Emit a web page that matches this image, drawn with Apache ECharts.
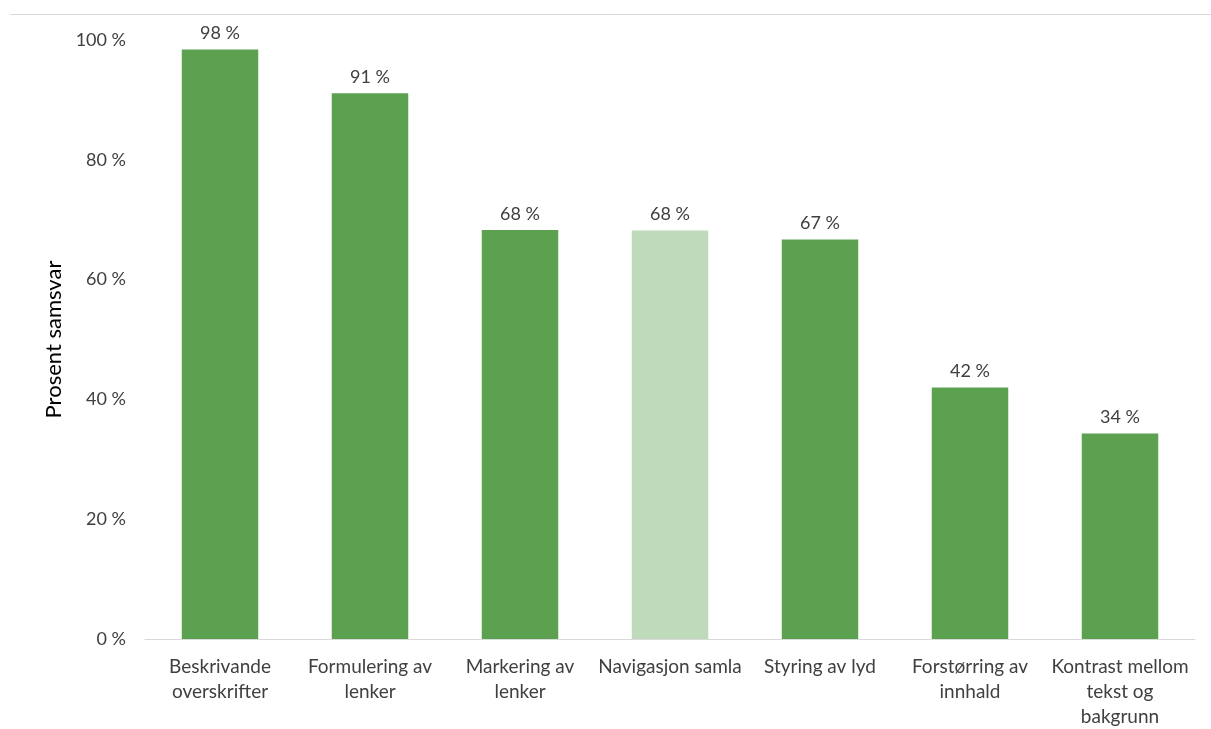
<!DOCTYPE html>
<html>
<head>
<meta charset="utf-8">
<script src="https://cdn.jsdelivr.net/npm/echarts@6/dist/echarts.min.js"></script>
<style>
  html, body { margin: 0; padding: 0; background: #fff; }
  #chart { width: 1211px; height: 729px; }
</style>
</head>
<body>
<div id="chart"></div>
<script>
const categories = [
  'Beskrivande\noverskrifter',
  'Formulering av\nlenker',
  'Markering av\nlenker',
  'Navigasjon samla',
  'Styring av lyd',
  'Forstørring av\ninnhald',
  'Kontrast mellom\ntekst og\nbakgrunn'
]
const values = [98.4, 91.1, 68.3, 68.2, 66.7, 42.0, 34.3]
const highlightIndex = 3

const green = '#5ba150'
const lightGreen = '#bfdabb'
const font = 'Lato, "Open Sans", sans-serif'

const chart = echarts.init(document.getElementById('chart'))

chart.setOption({
  animation: false,
  textStyle: { fontFamily: font },
  grid: { left: 145, right: 16, top: 40, bottom: 89 },
  graphic: [
    {
      type: 'line',
      shape: { x1: 10, y1: 14.5, x2: 1211, y2: 14.5 },
      style: { stroke: '#d9d9d9', lineWidth: 1 }
    }
  ],
  xAxis: {
    type: 'category',
    data: categories,
    axisLine: { lineStyle: { color: '#d9d9d9', width: 1 } },
    axisTick: { show: false },
    axisLabel: {
      color: '#404040',
      fontSize: 19,
      lineHeight: 25,
      margin: 15,
      interval: 0
    }
  },
  yAxis: {
    type: 'value',
    min: 0,
    max: 100,
    interval: 20,
    name: 'Prosent samsvar',
    nameLocation: 'middle',
    nameGap: 79,
    nameRotate: 90,
    nameTextStyle: { color: '#000', fontSize: 22 },
    splitLine: { show: false },
    axisLine: { show: false },
    axisTick: { show: false },
    axisLabel: {
      color: '#404040',
      fontSize: 18,
      margin: 19,
      formatter: (v) => v + ' %'
    }
  },
  series: [
    {
      type: 'bar',
      barWidth: '51%',
      data: values.map((v, i) => ({
        value: v,
        itemStyle: { color: i === highlightIndex ? lightGreen : green }
      })),
      label: {
        show: true,
        position: 'top',
        distance: 7,
        color: '#404040',
        fontSize: 18,
        formatter: (p) => Math.round(p.value) + ' %'
      }
    }
  ]
})
</script>
</body>
</html>
